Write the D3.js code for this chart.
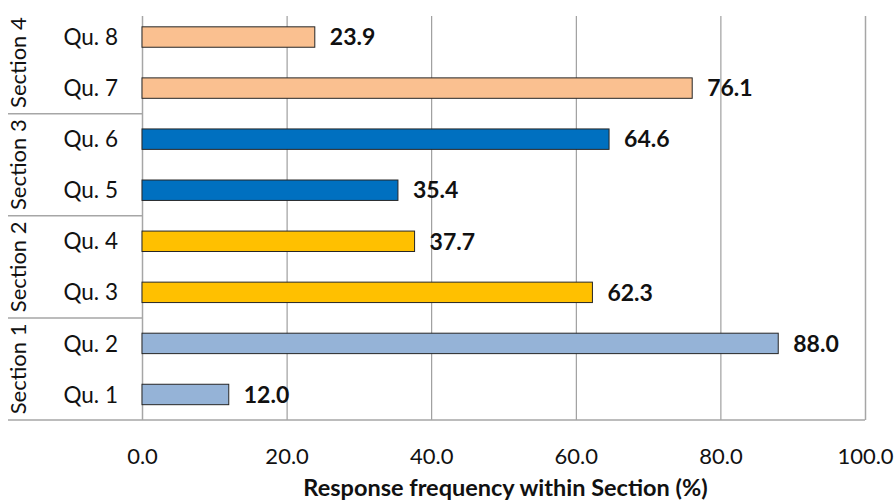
<!DOCTYPE html>
<html>
<head>
<meta charset="utf-8">
<script src="https://cdn.jsdelivr.net/npm/d3@7"></script>
<style>
  html, body { margin: 0; padding: 0; background: #ffffff; }
  svg { display: block; }
  text { font-family: Lato, "Open Sans", sans-serif; fill: #111; }
</style>
</head>
<body>
<svg id="chart" width="895" height="503"></svg>
<script>
// Questions, bottom to top, with the share of responses in each
const questions = ["Qu. 1", "Qu. 2", "Qu. 3", "Qu. 4", "Qu. 5", "Qu. 6", "Qu. 7", "Qu. 8"];
const values = [12.0, 88.0, 62.3, 37.7, 35.4, 64.6, 76.1, 23.9];
const sections = ["Section 1", "Section 2", "Section 3", "Section 4"];
const sectionOfQuestion = [0, 0, 1, 1, 2, 2, 3, 3];
const sectionColors = ["#95B3D7", "#FFC000", "#0070C0", "#FAC090"];
const xTicks = [0, 20, 40, 60, 80, 100];
const xTitle = "Response frequency within Section (%)";

const svg = d3.select("#chart");
const plotLeft = 142, plotRight = 865, plotTop = 11.5, plotBottom = 420, gridTop = 16;

const x = d3.scaleLinear().domain([0, 100]).range([plotLeft, plotRight]);
const y = d3.scaleBand().domain(questions.slice().reverse()).range([plotTop, plotBottom]).padding(0);
const barH = y.bandwidth() * 0.4;

// vertical gridlines
const grid = svg.append("g")
  .attr("transform", `translate(0,${plotBottom})`)
  .call(d3.axisBottom(x).tickValues(xTicks).tickSize(-(plotBottom - gridTop)).tickFormat(""));
grid.select(".domain").remove();
grid.selectAll(".tick line")
  .attr("stroke", (d) => (d === 0 || d === 100) ? "#a6a6a6" : "#8c8c8c")
  .attr("stroke-width", (d) => (d === 0 || d === 100) ? 1.5 : 1);

// bottom axis line
svg.append("line")
  .attr("x1", x(0)).attr("x2", x(100))
  .attr("y1", plotBottom).attr("y2", plotBottom)
  .attr("stroke", "#a6a6a6").attr("stroke-width", 1.5);

// tick labels
const xAxis = svg.append("g")
  .attr("transform", `translate(0,${plotBottom})`)
  .call(d3.axisBottom(x).tickValues(xTicks).tickSize(0).tickFormat(d3.format(".1f")));
xAxis.select(".domain").remove();
xAxis.selectAll("text")
  .attr("y", 44).attr("dy", 0)
  .style("font-family", "Lato, sans-serif")
  .style("font-size", "22px")
  .attr("fill", "#222");

// axis title
svg.append("text")
  .attr("x", (plotLeft + plotRight) / 2 + 2)
  .attr("y", 496)
  .attr("text-anchor", "middle")
  .style("font-size", "23.5px")
  .style("font-weight", "bold")
  .text(xTitle);

// bars
const data = questions.map((q, i) => ({ q, v: values[i], s: sectionOfQuestion[i] }));
svg.append("g").selectAll("rect")
  .data(data)
  .join("rect")
  .attr("x", x(0))
  .attr("y", (d) => y(d.q) + (y.bandwidth() - barH) / 2)
  .attr("width", (d) => x(d.v) - x(0))
  .attr("height", barH)
  .attr("fill", (d) => sectionColors[d.s])
  .attr("stroke", "#262626")
  .attr("stroke-width", 1);

// value labels
svg.append("g").selectAll("text")
  .data(data)
  .join("text")
  .attr("x", (d) => x(d.v) + 15)
  .attr("y", (d) => y(d.q) + y.bandwidth() / 2)
  .attr("dy", "0.36em")
  .style("font-size", "23px")
  .style("font-weight", "bold")
  .text((d) => d3.format(".1f")(d.v));

// question labels
svg.append("g").selectAll("text")
  .data(questions)
  .join("text")
  .attr("x", 118)
  .attr("y", (d) => y(d) + y.bandwidth() / 2)
  .attr("dy", "0.36em")
  .attr("text-anchor", "end")
  .style("font-size", "22.5px")
  .text((d) => d);

// section separators and labels
sections.forEach((s, k) => {
  const lower = questions[2 * k], upper = questions[2 * k + 1];
  const y0 = y(upper), y1 = y(lower) + y.bandwidth();
  svg.append("line")
    .attr("x1", 8).attr("x2", plotLeft)
    .attr("y1", y1).attr("y2", y1)
    .attr("stroke", "#a6a6a6").attr("stroke-width", 1.5);
  svg.append("text")
    .attr("transform", `translate(18,${(y0 + y1) / 2}) rotate(-90)`)
    .attr("text-anchor", "middle")
    .attr("dy", "0.36em")
    .style("font-size", "22px")
    .text(s);
});
</script>
</body>
</html>
